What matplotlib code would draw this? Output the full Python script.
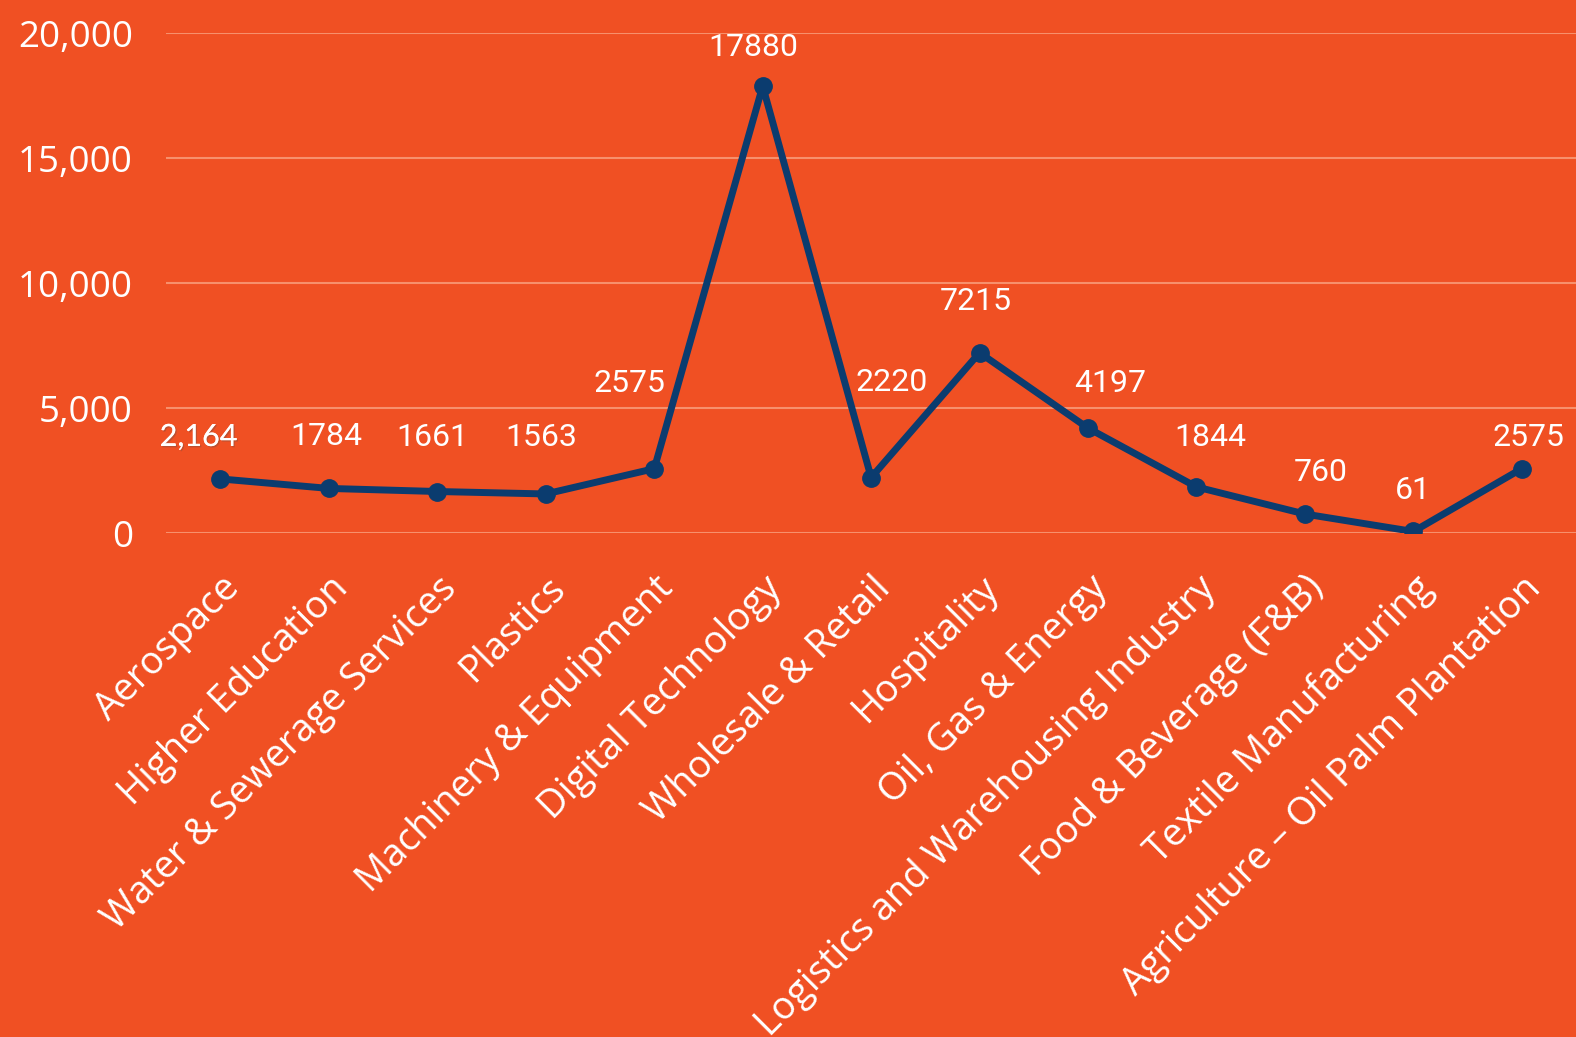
import matplotlib
matplotlib.use("Agg")
import matplotlib.pyplot as plt
from matplotlib import patheffects
from matplotlib.transforms import ScaledTranslation

# data
sectors = ["Aerospace", "Higher Education", "Water & Sewerage Services", "Plastics",
           "Machinery & Equipment", "Digital Technology", "Wholesale & Retail",
           "Hospitality", "Oil, Gas & Energy", "Logistics and Warehousing Industry",
           "Food & Beverage (F&B)", "Textile Manufacturing",
           "Agriculture – Oil Palm Plantation"]
values = [2164, 1784, 1661, 1563, 2575, 17880, 2220, 7215, 4197, 1844, 760, 61, 2575]
value_labels = ["2,164", "1784", "1661", "1563", "2575", "17880", "2220", "7215",
                "4197", "1844", "760", "61", "2575"]
y_ticks = [0, 5000, 10000, 15000, 20000]

# label offsets in pixels (layout only)
label_dx = [-22, -3, -5, -5, -25, -9, 21, -4, 22, 14, 16, 0, 7]
label_dy = [42, 52, 54, 56, 85, 39, 95, 51, 45, 49, 42, 41, 31]

bg = "#F05023"
navy = "#0B3C6F"
font = ["Open Sans", "DejaVu Sans"]

fig = plt.figure(figsize=(15.76, 10.37), dpi=100, facecolor=bg)
ax = fig.add_axes([0.1055, 0.486, 0.8945, 0.482], facecolor=bg)

x = list(range(len(values)))
ax.plot(x, values, color=navy, lw=5, marker="o", ms=12.5, zorder=3)

for i, v in enumerate(values):
    t = ax.annotate(value_labels[i], (i, v), xytext=(label_dx[i], label_dy[i]),
                    textcoords="offset pixels", ha="center", va="center",
                    color="white", fontsize=23, family=["Roboto", "DejaVu Sans"],
                    annotation_clip=False)
    if i == 0:
        t.set_family(["Lato", "DejaVu Sans"])
        t.set_fontsize(22)
        t.set_path_effects([patheffects.withSimplePatchShadow(offset=(1, -1), alpha=0.3),
                            patheffects.Normal()])

ax.set_xlim(-0.5, len(values) - 0.5)
ax.set_ylim(0, 20000)
ax.set_yticks(y_ticks)
ax.set_yticklabels([f"{t:,}" for t in y_ticks], fontsize=26.5, color="white", family=font)
ax.set_xticks(x)
ax.set_xticklabels(sectors, rotation=45, ha="right", rotation_mode="anchor",
                   fontsize=27.5, color="white", family=font)
shift = ScaledTranslation(0.18, -0.03, fig.dpi_scale_trans)
for lab in ax.get_xticklabels():
    lab.set_transform(lab.get_transform() + shift)
ax.tick_params(axis="y", length=0, pad=24)
ax.tick_params(axis="x", length=0, pad=26)
ax.grid(axis="y", color="#F7906C", lw=1.5)
ax.set_axisbelow(True)
for s in ax.spines.values():
    s.set_visible(False)

fig.savefig("out.png", dpi=100, facecolor=bg)
